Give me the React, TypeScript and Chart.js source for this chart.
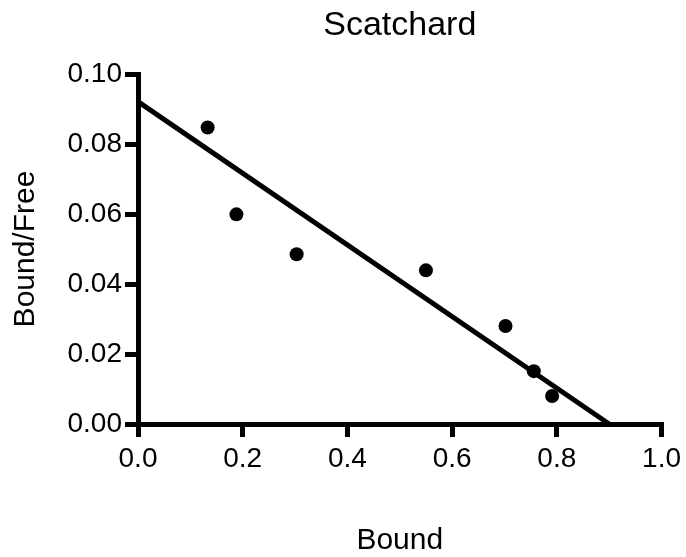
import React, { useEffect, useRef } from "react";
import { Chart, registerables } from "chart.js";

Chart.register(...registerables);

const boundValues = [0.133, 0.188, 0.303, 0.55, 0.702, 0.756, 0.791];
const boundFreeValues = [0.0847, 0.0599, 0.0485, 0.0439, 0.028, 0.0151, 0.008];
const fitX = [0, 0.9];
const fitY = [0.0921, 0];
const chartTitle = "Scatchard";
const xTitle = "Bound";
const yTitle = "Bound/Free";

export default function App() {
  const ref = useRef<HTMLCanvasElement | null>(null);
  useEffect(() => {
    if (!ref.current) return;
    const font = "Arial, 'Liberation Sans', sans-serif";
    const chart = new Chart(ref.current, {
      type: "scatter",
      data: {
        datasets: [
          {
            label: "Fit",
            data: fitX.map((x, i) => ({ x, y: fitY[i] })),
            showLine: true,
            borderColor: "#000",
            borderWidth: 5,
            pointRadius: 0,
            fill: false,
            clip: false as any,
          },
          {
            label: "Data",
            data: boundValues.map((x, i) => ({ x, y: boundFreeValues[i] })),
            backgroundColor: "#000",
            borderColor: "#000",
            pointRadius: 7,
            borderWidth: 0,
            clip: false as any,
          },
        ],
      },
      options: {
        animation: false,
        responsive: true,
        maintainAspectRatio: false,
        layout: { padding: { left: 0, right: 23, top: 0, bottom: 0 } },
        plugins: {
          legend: { display: false },
          tooltip: { enabled: false },
          title: {
            display: true,
            text: chartTitle,
            color: "#000",
            fullSize: false,
            font: { family: font, size: 34, weight: "normal" },
            padding: { top: 5.5, bottom: 27.7 },
          },
        },
        scales: {
          x: {
            type: "linear",
            min: 0,
            max: 1,
            afterFit: (s: any) => {
              s.height = 133;
            },
            ticks: {
              stepSize: 0.2,
              color: "#000",
              padding: 5,
              font: { family: font, size: 28 },
              callback: (v: any) => Number(v).toFixed(1),
              maxRotation: 0,
            },
            grid: {
              drawOnChartArea: false,
              drawTicks: true,
              tickLength: 13,
              lineWidth: 5,
              color: "#000",
            },
            border: { display: true, color: "#000", width: 5 },
            title: {
              display: true,
              text: xTitle,
              color: "#000",
              font: { family: font, size: 30 },
              padding: { top: 0, bottom: -2 },
            },
          },
          y: {
            type: "linear",
            min: 0,
            max: 0.1,
            afterFit: (s: any) => {
              s.width = 138;
            },
            ticks: {
              stepSize: 0.02,
              color: "#000",
              padding: 3,
              font: { family: font, size: 28 },
              callback: (v: any) => Number(v).toFixed(2),
            },
            grid: {
              drawOnChartArea: false,
              drawTicks: true,
              tickLength: 13,
              lineWidth: 5,
              color: "#000",
            },
            border: { display: true, color: "#000", width: 5 },
            title: {
              display: true,
              text: yTitle,
              color: "#000",
              font: { family: font, size: 30 },
              padding: { top: 8, bottom: 0 },
            },
          },
        },
      },
    });
    return () => chart.destroy();
  }, []);
  return (
    <div style={{ position: "absolute", left: 0, top: 0, width: 686, height: 557, background: "#fff" }}>
      <canvas ref={ref} />
    </div>
  );
}
